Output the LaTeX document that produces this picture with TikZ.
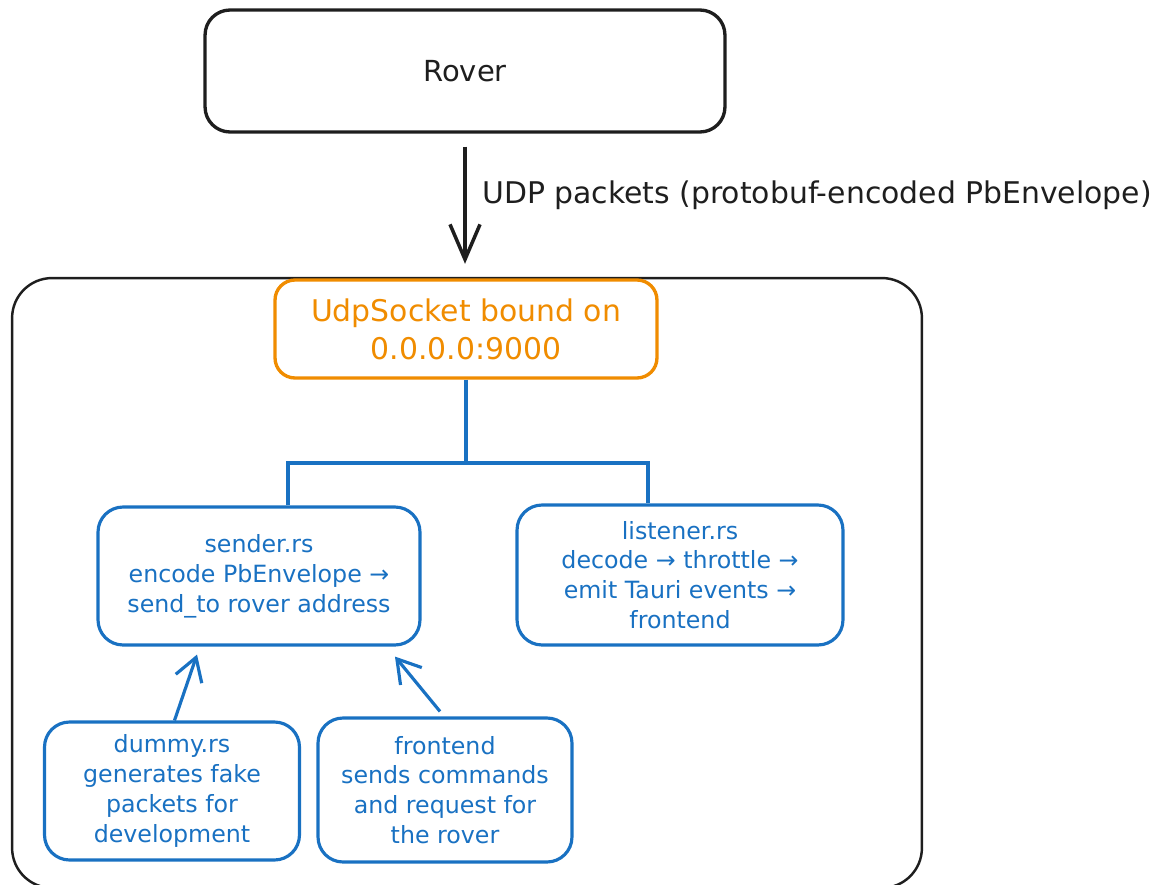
\documentclass[tikz,border=0pt]{standalone}
\usepackage{fontspec}
\setmainfont{DejaVu Sans}
\usetikzlibrary{arrows.meta, positioning}
\definecolor{sketchblue}{HTML}{1971C2}
\definecolor{sketchorange}{HTML}{F08C00}
\definecolor{sketchink}{HTML}{1E1E1E}

\begin{document}
\begin{tikzpicture}[x=0.02cm, y=-0.02cm,
    box/.style={rectangle, rounded corners=0.5cm, draw=sketchblue, line width=1.8pt, text=sketchblue, align=center, inner sep=0pt, font=\fontsize{13.5}{17}\selectfont},
    sockbox/.style={rectangle, rounded corners=0.4cm, draw=sketchorange, line width=1.9pt, text=sketchorange, align=center, inner sep=0pt, font=\fontsize{17}{21.5}\selectfont},
    container/.style={rectangle, rounded corners=0.8cm, draw=sketchink, line width=1.4pt},
    link/.style={sketchblue, line width=1.8pt},
    feed/.style={-{Straight Barb[length=0.45cm, width=0.55cm]}, sketchblue, line width=1.8pt},
    bigarrow/.style={-{Straight Barb[length=0.7cm, width=0.6cm]}, sketchink, line width=2pt}
]
\useasboundingbox (0,0) rectangle (1173,885);
\clip (0,0) rectangle (1173,885);

% Rover
\node[rectangle, rounded corners=0.5cm, draw=sketchink, line width=1.9pt, minimum width=10.4cm, minimum height=2.44cm, font=\fontsize{16.5}{20}\selectfont, text=sketchink] (rover) at (465,71) {Rover};

% Application boundary
\node[container, minimum width=18.2cm, minimum height=12.2cm] (app) at (467,583) {};

% Incoming packets
\draw[bigarrow, shorten <=0.26cm, shorten >=0.26cm] (rover.south) -- (rover.south |- app.north);
\node[anchor=west, font=\fontsize{17}{20}\selectfont, text=sketchink] (udp) at (476,195) {UDP packets (protobuf-encoded PbEnvelope)};

% Socket
\node[sockbox, minimum width=7.64cm, minimum height=1.96cm] (sock) at (466,329) {UdpSocket bound on\\0.0.0.0:9000};

% Tasks
\node[box, minimum width=6.44cm, minimum height=2.76cm] (send) at (259,576) {sender.rs\\encode PbEnvelope →\\send\_to rover address};
\node[box, minimum width=6.52cm, minimum height=2.8cm] (listen) at (680,575) {listener.rs\\decode → throttle →\\emit Tauri events →\\frontend};

% Sources
\node[box, minimum width=5.1cm, minimum height=2.76cm] (dummy) at (172,791) {dummy.rs\\generates fake\\packets for\\development};
\node[box, minimum width=5.08cm, minimum height=2.88cm] (front) at (445,790) {frontend\\sends commands\\and request for\\the rover};

% Split
\coordinate (bus) at (466,463);
\draw[link] (sock.south) -- (bus);
\draw[link] ([xshift=0.58cm]send.north) |- (bus) -| ([xshift=-0.64cm]listen.north);

% Feeds into sender
\draw[feed] ([xshift=0.05cm]dummy.north) -- ([xshift=-1.24cm, yshift=-0.16cm]send.south);
\draw[feed] ([xshift=-0.1cm, yshift=0.1cm]front.north) -- ([xshift=2.72cm, yshift=-0.2cm]send.south);
\end{tikzpicture}
\end{document}
